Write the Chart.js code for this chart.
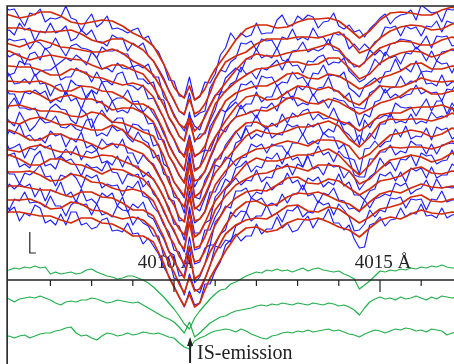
<!DOCTYPE html>
<html>
<head>
<meta charset="utf-8">
<script src="https://cdn.jsdelivr.net/npm/chart.js@4.4.1/dist/chart.umd.min.js"></script>
<style>
  body { margin: 0; background: #fff; }
  #wrap { width: 454px; height: 364px; }
</style>
</head>
<body>
<div id="wrap"><canvas id="spectra" width="454" height="364"></canvas></div>
<script>
// wavelength grid of the observed spectra (Å)
const lambdaBlue = [
  4005.75,4005.875,4006,4006.125,4006.25,4006.375,4006.5,4006.625,4006.75,4006.875,
  4007,4007.125,4007.25,4007.375,4007.5,4007.625,4007.75,4007.875,4008,4008.125,
  4008.25,4008.375,4008.5,4008.625,4008.75,4008.875,4009,4009.125,4009.25,4009.375,
  4009.5,4009.625,4009.75,4009.875,4010,4010.125,4010.25,4010.375,4010.5,4010.625,
  4010.75,4010.875,4011,4011.125,4011.25,4011.375,4011.5,4011.625,4011.75,4011.875,
  4012,4012.125,4012.25,4012.375,4012.5,4012.625,4012.75,4012.875,4013,4013.125,
  4013.25,4013.375,4013.5,4013.625,4013.75,4013.875,4014,4014.125,4014.25,4014.375,
  4014.5,4014.625,4014.75,4014.875,4015,4015.125,4015.25,4015.375,4015.5,4015.625,
  4015.75,4015.875,4016,4016.125,4016.25,4016.375,4016.5,4016.625,4016.75,4016.875,
  4017
];
// grid of the smoothed (model) spectra
const lambdaRed = [
  4005.75,4006,4006.25,4006.5,4006.75,4007,4007.25,4007.5,4007.75,4008,4008.25,4008.5,4008.75,4009,4009.25,4009.5,4009.75,
  4009.875,4010,4010.125,4010.25,4010.375,4010.5,4010.625,4010.75,4010.875,
  4011,4011.25,4011.5,4011.75,4012,4012.25,4012.5,4012.75,4013,4013.25,4013.5,4013.75,4014,4014.25,4014.5,4014.75,4015,4015.25,4015.5,4015.75,4016,4016.25,4016.5,4016.75,4017
];

// offset flux (inverted units, one spectrum per row)
const blue00 = [17,7,10,9,18,26,13,15,9,22,18,19,17,6,18,20,31,21,14,27,23,16,29,28,30,33,30,28,39,36,47,52,64,80,81,96,97,77,100,97,82,83,74,55,48,33,40,33,37,35,23,34,33,33,20,15,25,26,16,20,15,17,28,22,21,13,26,29,25,32,30,37,29,24,18,14,24,18,15,14,10,20,5,9,13,12,22,9,10,9,10];
const red00 = [12,15,18,16,12,12,16,22,24,22,20,21,26,33,38,46,64,75,87,94,98,86,100,96,89,78,69,55,40,29,25,25,28,27,22,19,19,18,21,29,38,31,20,13,12,13,15,15,10,7,11];
const blue01 = [20,31,30,35,23,30,28,41,31,33,23,33,31,26,41,38,30,35,30,41,42,46,35,38,38,51,43,47,43,56,61,69,78,90,101,111,115,93,117,113,111,88,79,70,72,62,58,43,44,41,50,39,41,40,49,37,39,29,40,37,40,28,37,37,45,33,35,34,49,44,50,44,49,42,39,27,28,26,36,26,29,27,36,26,27,21,32,21,23,23,31];
const red01 = [26,28,28,30,32,32,31,30,34,40,43,39,39,44,50,61,80,91,100,111,114,99,114,111,104,93,79,62,56,52,44,39,39,39,37,37,38,35,32,40,53,49,38,31,27,25,26,30,29,24,24];
const blue02 = [45,44,39,41,40,39,49,41,43,49,47,38,48,56,46,44,48,49,51,58,47,51,51,50,54,54,67,65,68,64,77,77,97,103,114,124,131,115,126,130,115,105,95,94,78,73,68,72,59,59,49,58,55,58,48,60,62,51,50,42,52,49,51,48,39,50,51,57,60,67,66,63,50,55,50,56,44,43,39,40,41,49,44,36,48,36,37,36,46,44,44];
const red02 = [40,44,47,43,40,43,47,48,50,52,52,49,53,61,66,75,92,104,116,124,128,118,131,126,117,106,96,83,70,59,54,56,56,53,51,50,47,44,49,62,67,57,48,44,41,42,45,45,40,37,41];
const blue03 = [48,50,57,54,54,65,54,52,60,48,54,66,62,58,61,55,59,65,52,58,69,68,72,63,68,69,66,79,79,84,82,99,100,118,126,136,141,112,142,134,134,121,110,92,92,84,81,67,74,72,79,68,70,65,60,70,59,66,65,73,61,62,57,55,65,62,63,58,71,76,82,79,71,59,65,52,58,56,64,53,54,47,52,61,51,61,52,51,50,52,49];
const red03 = [52,51,56,60,57,55,57,59,60,65,69,65,65,70,74,87,105,117,125,136,141,121,140,138,132,118,104,91,82,75,69,68,65,62,62,65,64,58,58,68,79,74,63,57,53,51,52,57,54,49,51];
const blue04 = [68,67,75,73,61,64,64,76,71,70,70,66,80,77,77,68,72,72,82,72,82,81,85,74,72,85,86,90,85,99,98,109,118,129,140,152,155,135,157,153,150,127,118,109,112,103,99,84,85,81,89,76,78,77,86,82,83,72,79,77,85,73,74,65,76,75,77,72,88,92,97,86,82,78,83,72,71,59,70,68,72,61,72,71,72,61,64,63,73,61,71];
const red04 = [66,66,67,67,70,75,75,69,71,77,78,82,85,83,86,97,118,131,139,150,157,139,156,153,146,132,120,101,93,89,86,86,81,74,73,78,79,74,76,82,89,85,78,75,71,64,63,69,69,66,67];
const blue05 = [82,84,74,84,83,79,84,74,84,83,96,86,84,95,80,85,86,99,90,94,82,92,101,98,98,90,102,101,112,106,114,122,134,144,154,164,171,138,169,167,150,151,138,129,112,107,102,109,104,104,92,102,97,97,85,96,91,100,86,90,84,96,88,87,77,91,91,98,93,107,108,109,93,90,85,93,88,87,76,85,81,82,72,84,83,86,75,86,82,82,75];
const red05 = [84,81,82,82,81,85,91,91,86,87,91,92,97,104,104,110,131,145,155,163,170,143,171,167,158,146,137,121,107,97,95,100,99,92,86,87,90,87,92,101,105,96,86,87,87,83,78,81,82,81,82];
const blue06 = [94,83,94,94,105,92,94,90,94,91,103,99,102,91,101,98,109,96,90,103,101,112,101,112,110,113,103,109,112,124,123,139,140,156,165,176,182,153,187,177,172,159,147,129,132,122,117,105,114,111,118,107,108,103,111,97,99,96,106,103,105,94,103,100,108,98,100,101,107,109,126,114,117,102,100,89,98,94,98,95,94,85,94,91,93,92,101,89,90,82,92];
const red06 = [90,91,92,91,95,101,97,95,99,99,103,110,108,108,113,122,143,156,164,175,183,163,181,179,171,157,145,128,117,114,110,111,106,98,98,103,104,99,102,108,114,109,103,100,96,89,88,94,94,91,92];
const blue07 = [112,119,105,98,108,108,110,108,118,119,108,104,109,110,120,124,109,114,128,117,110,118,123,118,118,134,124,125,130,130,146,144,164,168,182,190,198,158,197,199,180,171,159,159,145,138,131,139,126,126,115,125,129,123,127,114,123,113,117,111,109,120,114,119,118,108,120,125,122,127,145,120,128,119,118,115,117,103,107,108,107,116,107,99,111,101,101,114,103,111,103];
const red07 = [110,106,105,108,111,111,112,116,117,112,114,122,123,127,132,136,156,170,182,189,196,164,197,193,184,172,162,148,132,123,122,127,124,118,116,113,112,117,121,124,131,124,115,113,113,108,107,107,105,109,107];
const blue08 = [117,115,121,126,112,121,131,126,118,123,122,116,127,128,124,129,131,120,119,136,133,136,126,131,129,137,142,132,140,143,158,155,174,177,197,199,213,175,207,211,198,185,165,167,157,159,143,140,128,139,134,137,126,138,134,135,124,127,125,135,124,127,123,134,129,132,119,131,135,142,135,142,133,139,124,124,113,123,121,123,114,124,121,123,112,118,116,117,107,120,118];
const red08 = [117,122,124,119,117,121,125,124,127,130,130,125,130,139,143,151,169,182,192,201,207,184,209,205,195,183,173,160,148,136,130,133,134,131,127,127,124,121,126,139,147,137,123,119,120,119,119,121,118,113,118];
const blue09 = [131,142,131,134,124,137,135,141,138,143,131,136,134,147,138,142,132,148,145,150,139,145,143,148,139,153,153,164,155,161,164,174,184,199,201,221,220,191,223,219,211,192,192,181,175,159,166,158,157,144,147,144,153,144,146,146,154,143,143,134,144,141,144,133,137,137,149,144,158,160,174,149,148,141,147,142,141,129,137,126,139,136,137,128,140,127,130,128,139,135,135];
const red09 = [132,130,134,140,140,134,134,139,140,144,149,144,145,150,154,166,185,197,205,217,222,197,221,219,212,198,185,171,160,154,149,148,144,141,143,146,140,140,141,146,159,154,144,135,133,130,132,137,134,128,132];
const blue10 = [147,137,149,147,144,158,148,150,144,148,145,159,156,149,155,146,160,151,153,150,163,161,165,156,167,156,166,166,177,172,180,187,198,207,224,226,240,207,233,233,223,220,197,191,179,183,168,166,161,172,166,168,157,159,153,164,152,160,157,167,154,156,146,155,152,162,151,157,159,175,177,177,159,159,152,152,145,155,151,153,141,145,145,154,144,154,145,144,143,145,142];
const red10 = [145,150,152,147,145,149,152,152,156,158,155,156,161,165,172,179,197,210,220,229,235,214,237,233,223,211,201,188,176,164,158,161,161,158,155,155,152,149,155,166,175,165,151,147,148,147,147,149,146,141,146];
const blue11 = [157,159,155,153,167,164,168,156,151,166,164,169,156,161,159,166,176,164,168,167,171,161,172,173,184,174,176,174,187,181,194,199,212,222,232,241,252,211,250,248,230,230,217,208,189,184,178,185,180,181,170,182,177,178,165,168,164,175,164,167,156,169,167,175,163,167,166,178,171,177,190,183,177,173,158,166,162,171,159,160,155,166,153,156,155,164,161,160,150,162,152];
const red11 = [157,155,159,165,165,159,159,164,165,169,174,169,170,175,179,191,210,222,230,243,249,222,248,246,237,223,210,196,185,179,174,173,169,166,168,171,165,165,166,171,184,179,169,160,158,155,157,162,159,153,157];
const blue12 = [174,164,174,174,184,173,175,171,165,177,176,186,175,177,173,178,188,175,178,175,188,184,186,185,196,186,188,181,196,198,207,213,225,232,250,252,267,237,264,262,248,245,222,216,206,208,191,191,188,198,192,194,182,190,185,184,173,183,180,190,178,181,177,187,182,185,174,186,182,195,195,200,191,189,174,176,172,181,172,182,168,171,168,178,167,178,175,175,164,168,168];
const red12 = [171,172,172,171,175,181,180,174,176,182,183,188,191,189,192,201,223,236,244,256,264,246,262,260,251,237,225,208,198,192,190,191,185,178,177,183,184,179,181,188,195,189,181,179,176,169,167,173,174,171,172];
const blue13 = [186,197,184,189,184,187,184,197,188,201,190,192,182,196,192,202,189,201,199,204,193,197,193,206,197,212,204,208,202,216,219,230,239,252,255,276,275,248,283,277,264,245,245,234,230,212,217,211,212,198,201,198,206,203,206,194,203,194,194,185,196,194,203,193,195,188,200,201,209,208,212,200,208,199,197,194,196,183,186,183,194,190,188,180,191,179,188,187,188,186,189];
const red13 = [190,186,186,188,190,190,194,197,192,192,197,198,203,210,210,216,237,251,261,270,278,255,279,275,264,252,243,225,210,202,201,206,204,197,193,194,192,196,201,204,211,202,194,191,193,188,184,187,188,186,188];
const blue14 = [201,200,210,199,201,192,203,202,203,207,196,206,206,216,205,201,205,204,215,204,215,213,217,206,210,211,225,217,223,226,236,236,256,258,278,281,295,274,289,293,279,266,246,248,240,242,226,223,212,221,216,216,205,216,213,222,210,211,206,217,212,213,201,205,203,215,204,210,217,231,230,224,210,217,210,212,198,199,197,208,199,200,199,210,199,200,191,202,200,200,200];
const red14 = [199,200,200,199,203,209,208,202,204,210,211,216,219,217,220,229,251,264,272,284,293,277,291,289,279,265,253,234,225,220,218,219,213,206,205,211,212,207,209,216,223,217,209,207,204,197,195,201,202,199,200];
const blue15 = [214,216,211,207,221,213,216,205,208,223,220,225,214,225,212,212,225,223,229,227,220,218,231,230,232,223,234,233,244,238,246,254,267,276,286,297,307,291,305,303,284,284,271,262,245,240,234,241,236,236,224,234,229,229,217,228,223,232,230,222,216,228,219,219,209,223,223,230,225,239,248,247,225,223,217,226,220,219,208,217,213,214,204,216,215,218,208,218,215,214,207];
const red15 = [216,212,212,214,216,216,220,223,218,218,223,224,229,236,236,242,263,277,287,297,306,294,307,303,290,278,269,251,236,228,227,232,230,223,219,220,218,222,227,230,237,228,220,217,219,214,210,213,214,212,214];

// residual / difference spectra below the axis
const green1 = [270,271,270,268,269,267,268,266,268,267,274,272,274,273,272,274,273,270,269,272,274,276,277,279,278,276,276,278,280,283,287,292,297,303,309,316,324,329,318,311,305,299,294,290,289,284,282,279,276,274,272,273,270,271,269,271,270,272,270,268,271,269,268,270,271,272,271,274,276,279,289,285,281,276,271,272,270,271,269,270,268,269,267,268,266,267,265,267,268,268,268];
const green2 = [298,297,299,302,299,298,297,298,296,298,300,303,305,302,301,302,300,300,298,299,301,303,302,300,301,302,303,302,305,308,311,314,317,319,322,327,333,322,337,333,328,323,320,317,316,313,311,310,309,308,306,305,306,304,305,303,304,305,303,304,305,303,304,305,303,304,306,305,307,310,315,308,302,299,297,299,298,300,297,299,298,296,298,300,297,299,296,297,298,297,297];
const green3 = [336,337,336,338,336,335,338,336,334,333,333,331,330,328,327,333,336,335,338,340,336,333,334,336,335,333,335,334,332,333,334,333,335,337,338,343,347,349,341,338,336,333,331,330,329,330,332,329,331,334,336,338,339,336,335,333,332,333,331,332,330,332,331,330,329,331,330,332,334,335,337,334,332,330,331,333,331,329,330,328,329,331,330,332,329,330,331,335,333,332,333];

const minorTicks = [4007, 4008, 4009, 4011, 4012, 4013, 4014, 4016];
const majorTicks = [4010, 4015];
const tickLabels = ["4010 Å", "4015 Å"];

const blueSeries = [blue00, blue01, blue02, blue03, blue04, blue05, blue06, blue07, blue08, blue09, blue10, blue11, blue12, blue13, blue14, blue15];
const redSeries = [red00, red01, red02, red03, red04, red05, red06, red07, red08, red09, red10, red11, red12, red13, red14, red15];
const greenSeries = [green1, green2, green3];

// plot frame (data units)
const frameLeft = 4005.95;
const frameTop = 6;
const axisLevel = 280;

function toPoints(xs, ys) {
  return ys.map((v, i) => ({ x: xs[i], y: v }));
}

let datasets = [];
redSeries.forEach(function (s) {
  datasets.push({ data: toPoints(lambdaRed, s), borderColor: "#d42a08", borderWidth: 1.7, order: 1 });
});
blueSeries.forEach(function (s) {
  datasets.push({ data: toPoints(lambdaBlue, s), borderColor: "#1f1fff", borderWidth: 1.15, order: 2 });
});
greenSeries.forEach(function (s) {
  datasets.push({ data: toPoints(lambdaBlue, s), borderColor: "#22b04c", borderWidth: 1.2, order: 3 });
});

const decor = {
  id: "decor",
  beforeDatasetsDraw(chart) {
    const { ctx, scales: { x, y } } = chart;
    const ay = y.getPixelForValue(axisLevel);
    // wavelength labels sit under the spectra
    ctx.save();
    ctx.fillStyle = "#222";
    ctx.font = '19px "Liberation Serif", serif';
    ctx.textAlign = "center";
    ctx.textBaseline = "alphabetic";
    const shift = [-8, 3];
    majorTicks.forEach(function (t, i) {
      ctx.fillText(tickLabels[i], x.getPixelForValue(t) + shift[i], ay - 12);
    });
    ctx.restore();

    ctx.save();
    ctx.beginPath();
    ctx.rect(x.getPixelForValue(frameLeft), y.getPixelForValue(frameTop), chart.width, chart.height);
    ctx.clip();
  },
  afterDatasetsDraw(chart) {
    const { ctx, scales: { x, y } } = chart;
    ctx.restore();
    const left = x.getPixelForValue(frameLeft);
    const top = y.getPixelForValue(frameTop);
    const ay = y.getPixelForValue(axisLevel);

    ctx.save();
    // frame
    ctx.strokeStyle = "#222";
    ctx.fillStyle = "#222";
    ctx.lineWidth = 1.6;
    ctx.beginPath();
    ctx.moveTo(left, chart.height);
    ctx.lineTo(left, top);
    ctx.lineTo(chart.width, top);
    ctx.stroke();

    // wavelength axis
    ctx.lineWidth = 1.4;
    ctx.beginPath();
    ctx.moveTo(left, ay);
    ctx.lineTo(chart.width, ay);
    ctx.stroke();
    ctx.lineWidth = 1.2;
    minorTicks.forEach(function (t) {
      const px = x.getPixelForValue(t);
      ctx.beginPath();
      ctx.moveTo(px, ay);
      ctx.lineTo(px, ay + 6);
      ctx.stroke();
    });
    majorTicks.forEach(function (t) {
      const px = x.getPixelForValue(t);
      ctx.beginPath();
      ctx.moveTo(px, ay);
      ctx.lineTo(px, ay + 12);
      ctx.stroke();
    });

    // flux scale bar
    const bx = x.getPixelForValue(4006.5);
    ctx.lineWidth = 1.2;
    ctx.beginPath();
    ctx.moveTo(bx, y.getPixelForValue(232));
    ctx.lineTo(bx, y.getPixelForValue(253));
    ctx.lineTo(bx + 6, y.getPixelForValue(253));
    ctx.stroke();

    // interstellar emission marker
    const ix = x.getPixelForValue(4010.39);
    ctx.lineWidth = 2;
    ctx.beginPath();
    ctx.moveTo(ix, chart.height - 1);
    ctx.lineTo(ix, y.getPixelForValue(345));
    ctx.stroke();
    ctx.beginPath();
    ctx.moveTo(ix, y.getPixelForValue(337));
    ctx.lineTo(ix - 3, y.getPixelForValue(346));
    ctx.lineTo(ix + 3, y.getPixelForValue(346));
    ctx.closePath();
    ctx.fill();
    ctx.font = '20px "Liberation Serif", serif';
    ctx.textAlign = "left";
    ctx.fillText("IS-emission", ix + 7, y.getPixelForValue(359));
    ctx.restore();
  }
};

new Chart(document.getElementById("spectra"), {
  type: "line",
  data: { datasets: datasets },
  options: {
    responsive: false,
    animation: false,
    events: [],
    layout: { padding: 0 },
    elements: {
      point: { radius: 0 },
      line: { tension: 0, fill: false, borderJoinStyle: "round" }
    },
    plugins: { legend: { display: false }, tooltip: { enabled: false } },
    scales: {
      x: { type: "linear", display: false, min: 4005.7767, max: 4016.7961 },
      y: { type: "linear", display: false, reverse: true, min: 0, max: 364 }
    }
  },
  plugins: [decor]
});
</script>
</body>
</html>
